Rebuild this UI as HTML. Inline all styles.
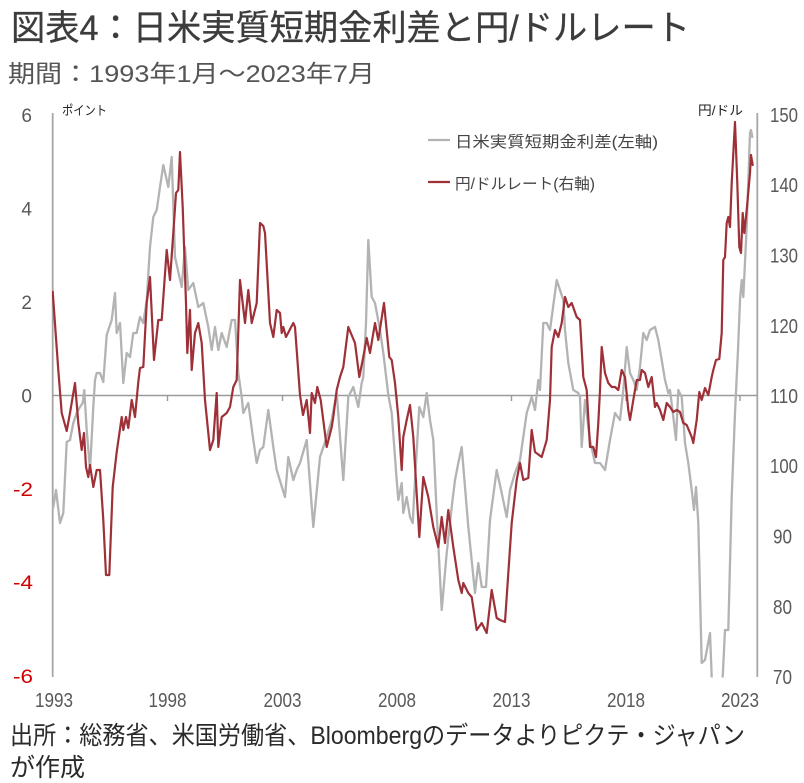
<!DOCTYPE html>
<html><head><meta charset="utf-8"><style>
html,body{margin:0;padding:0;background:#fff;}
svg{display:block;}
text{font-family:"Liberation Sans","Noto Sans CJK JP",sans-serif;}
</style></head><body>
<svg width="804" height="783" viewBox="0 0 804 783" xmlns="http://www.w3.org/2000/svg">
<rect width="804" height="783" fill="#fff"/>
<defs><clipPath id="pc"><rect x="52" y="110" width="706" height="567.5"/></clipPath></defs>

<!-- Title -->
<text x="11" y="40" font-size="35" fill="#3c3c3c" stroke="#3c3c3c" stroke-width="0.3" textLength="679" lengthAdjust="spacingAndGlyphs">図表4：日米実質短期金利差と円/ドルレート</text>
<text x="8" y="82" font-size="24" fill="#555" textLength="367" lengthAdjust="spacingAndGlyphs">期間：1993年1月～2023年7月</text>

<!-- axes -->
<line x1="52.7" y1="113" x2="52.7" y2="677" stroke="#a6a6a6" stroke-width="1.8"/>
<line x1="757.3" y1="113" x2="757.3" y2="677" stroke="#a6a6a6" stroke-width="1.8"/>
<line x1="52.7" y1="395.5" x2="757.3" y2="395.5" stroke="#9a9a9a" stroke-width="1.6"/>
<g stroke="#9a9a9a" stroke-width="1.4">
<line x1="167.5" y1="395.5" x2="167.5" y2="401"/>
<line x1="282.5" y1="395.5" x2="282.5" y2="401"/>
<line x1="397" y1="395.5" x2="397" y2="401"/>
<line x1="511.5" y1="395.5" x2="511.5" y2="401"/>
<line x1="626" y1="395.5" x2="626" y2="401"/>
<line x1="740" y1="395.5" x2="740" y2="401"/>
</g>

<!-- left labels -->
<g font-size="19" fill="#595959" text-anchor="end">
<text x="32" y="122">6</text>
<text x="32" y="215.5">4</text>
<text x="32" y="309">2</text>
<text x="32" y="402.5">0</text>
</g>
<g font-size="19" fill="#d00000">
<text x="13" y="496" textLength="20" lengthAdjust="spacingAndGlyphs">-2</text>
<text x="13" y="589" textLength="20" lengthAdjust="spacingAndGlyphs">-4</text>
<text x="13" y="683" textLength="20" lengthAdjust="spacingAndGlyphs">-6</text>
</g>

<!-- right labels -->
<g font-size="20" fill="#595959">
<text x="770" y="122" textLength="28" lengthAdjust="spacingAndGlyphs">150</text>
<text x="770" y="192" textLength="28" lengthAdjust="spacingAndGlyphs">140</text>
<text x="770" y="262.5" textLength="28" lengthAdjust="spacingAndGlyphs">130</text>
<text x="770" y="333" textLength="28" lengthAdjust="spacingAndGlyphs">120</text>
<text x="770" y="403" textLength="28" lengthAdjust="spacingAndGlyphs">110</text>
<text x="770" y="473" textLength="28" lengthAdjust="spacingAndGlyphs">100</text>
<text x="773" y="543.5" textLength="19" lengthAdjust="spacingAndGlyphs">90</text>
<text x="773" y="614" textLength="19" lengthAdjust="spacingAndGlyphs">80</text>
<text x="773" y="684" textLength="19" lengthAdjust="spacingAndGlyphs">70</text>
</g>

<!-- x labels -->
<g font-size="20" fill="#595959">
<text x="35" y="707" textLength="38" lengthAdjust="spacingAndGlyphs">1993</text>
<text x="148.5" y="707" textLength="38" lengthAdjust="spacingAndGlyphs">1998</text>
<text x="263.5" y="707" textLength="38" lengthAdjust="spacingAndGlyphs">2003</text>
<text x="378" y="707" textLength="38" lengthAdjust="spacingAndGlyphs">2008</text>
<text x="492.5" y="707" textLength="38" lengthAdjust="spacingAndGlyphs">2013</text>
<text x="607" y="707" textLength="38" lengthAdjust="spacingAndGlyphs">2018</text>
<text x="721" y="707" textLength="38" lengthAdjust="spacingAndGlyphs">2023</text>
</g>

<!-- units -->
<text x="62" y="115" font-size="13" fill="#222" textLength="45" lengthAdjust="spacingAndGlyphs">ポイント</text>
<text x="698" y="115" font-size="13" fill="#222" textLength="45" lengthAdjust="spacingAndGlyphs">円/ドル</text>

<!-- legend -->
<line x1="428" y1="140" x2="450" y2="140" stroke="#b3b3b3" stroke-width="2.2"/>
<text x="455" y="147" font-size="15.5" fill="#444" textLength="203" lengthAdjust="spacingAndGlyphs">日米実質短期金利差(左軸)</text>
<line x1="428" y1="182" x2="450" y2="182" stroke="#9e3038" stroke-width="2.2"/>
<text x="455" y="189" font-size="15.5" fill="#444" textLength="140" lengthAdjust="spacingAndGlyphs">円/ドルレート(右軸)</text>

<g clip-path="url(#pc)" fill="none" stroke-linejoin="round" stroke-linecap="round">
<!-- gray series -->
<polyline stroke="#b3b3b3" stroke-width="2.3" points="53.3,507 56,490 60,523 63.3,513 66.7,442 70,440 73.3,423 76.7,413 80,407 82.7,403 84.3,390 86.7,430 90,470 93.3,407 95,380 96.7,373 100,373 103.3,382 106.7,335 111.7,320 115,293 116.7,333 120,323 123.3,383 126.7,353 130,357 133.3,333 136.7,333 140,317 143.3,323 146.7,300 150,247 153.3,217 156.7,210 160,187 163.3,165 168.3,187 171.7,157 175,257 181.7,287 185,247 188.3,290 193.3,283 198.3,307 203.3,303 208.3,327 211.7,350 215,327 218.3,350 221.7,333 226.7,347 231.7,320 235,320 238.3,373 241.7,397 243.3,413 248.3,403 253.3,440 256.7,463 260,450 263.3,447 268.3,410 273.3,447 276.7,470 285,497 288.3,457 293.3,480 296.7,470 300,463 306.7,440 313.3,527 320,457 326.7,437 331.7,420 336.7,393 343.3,480 348.3,397 353.3,387 358.3,407 361.7,383 363.3,377 366,323 368.3,240 371.7,297 375,303 380,330 383.3,353 388.3,395 391.7,413 395,457 396.7,480 398.3,500 401.7,483 403.3,513 406.7,497 410,517 412.7,523 415,480 419.3,407 423.3,417 426.7,393 430,420 433.3,440 436.7,513 441.7,610 446.7,553 451.7,507 455,480 458.3,463 461.7,447 468.3,527 475,593 478.3,563 481.7,587 486,587 490,520 496.7,470 501.7,493 506.7,517 510,490 515,473 520,460 526.7,413 531.7,397 535,410 538.3,380 540,390 543.3,323 546.7,323 550,330 556.7,280 560,290 563.3,300 565,330 568.3,363 573.3,390 578.3,393 580,397 581.7,447 585,400 590,440 595,463 600,463 605,470 610,440 615,413 620,420 623.3,390 626.7,347 630,373 633.3,380 636.7,390 640,367 643.3,333 646.7,340 650,330 655,327 658.3,340 661.7,360 665,380 668.3,393 670,390 673.3,417 676,440 678.3,390 681.7,397 685,443 688.3,463 691.7,490 694,510 696,487 698.3,523 701.7,663 705,660 710,633 711.7,677 713,700 721,700 722.7,677 725,630 728.3,630 731.7,497 735,413 738,350 740,300 741.7,280 743.3,297 746.7,227 750,133 751,130 752.3,137"/>
<!-- red series -->
<polyline stroke="#9e3038" stroke-width="2.2" points="52.7,291.7 58.3,370 61.7,413 66.7,431 70,413 75,383 78.3,423 81.7,450 84,433 86,467 88.3,477 90,465 93.3,487 96.7,470 100,470 103.3,520 106,575 109.3,575 112.7,487 116.7,452 121.7,417 123.3,430 126,417 128.3,428 131.7,400 135,417 138.3,382 140,368 143.3,367 146.7,303 150,277 154,360 158.3,320 161.7,320 166.7,250 170,280 173.3,233 176,193 178.3,190 180,152 182.7,207 186,303 187.3,353 190,310 191.7,370 195,333 198.3,323 201.7,343 205,400 210,450 213.3,440 216.7,393 218.3,447 221.7,417 226.7,413 230,407 233.3,387 236.7,380 240,280 245,323 248.3,290 251.7,323 256.7,303 260,223 263.3,226 265,233 270,323 273.3,337 276.7,310 280,313 281.7,333 283.3,327 286,337 293.3,323 295,327 300,395 303,415 306.7,400 310,433 311.7,393 315,403 317.3,387 320.7,400 326.7,447 331.7,427 333.3,417 336.7,390 340,377 343.3,367 348.3,327 355,343 359.3,377 363.3,357 366.7,338 370,353 375,323 378.3,340 384,303 389.3,357 391.7,360 395,383 398.3,417 401.7,470 403.3,437 406.7,420 410,405 413.3,437 419.3,537 423.3,477 428.3,497 433.3,527 438.3,547 441.7,517 445,543 448.3,510 453.3,547 458.3,580 461.7,593 463.3,583 468.3,593 471.7,597 476.7,630 481.7,623 486.7,633 491.7,590 496.7,618 500,620 505,622 511.7,523 516.7,480 520,463 523.3,480 528.3,478 531.7,430 535,452 541.7,457 546.7,440 550,400 551.7,347 555,330 558.3,337 561.7,323 565,297 568.3,307 571.7,303 576.7,317 580,320 583.3,377 586.7,390 590,447 593.3,447 596,457 598.3,423 600,390 601.7,347 605,373 608.3,383 611.7,387 615,387 618.3,390 621.7,370 625,377 628.3,410 630,420 633.3,400 636.7,380 640,380 641.7,370 645,373 648.3,387 651.7,377 655,407 656.7,403 660,410 663.3,420 666.7,403 670,407 673.3,412 676.7,410 680,412 683.3,423 686.7,425 691.7,437 693.3,443 696.7,420 699.3,392 701.7,400 705,388 708.3,395 711.7,377 713.3,370 716,360 719.3,359 721.7,333 723.3,260 725,257 726.7,223 728.3,217 730,227 731.7,183 735,122 737.3,183 739.3,247 741,253 742.7,213 744.3,233 746.7,210 750,173 751,155 752.7,165"/>
</g>

<!-- footnote -->
<text x="10" y="744" font-size="25" fill="#2a2a2a" textLength="735" lengthAdjust="spacingAndGlyphs">出所：総務省、米国労働省、Bloombergのデータよりピクテ・ジャパン</text>
<text x="10" y="776" font-size="25" fill="#2a2a2a" textLength="75" lengthAdjust="spacingAndGlyphs">が作成</text>
</svg>
</body></html>
